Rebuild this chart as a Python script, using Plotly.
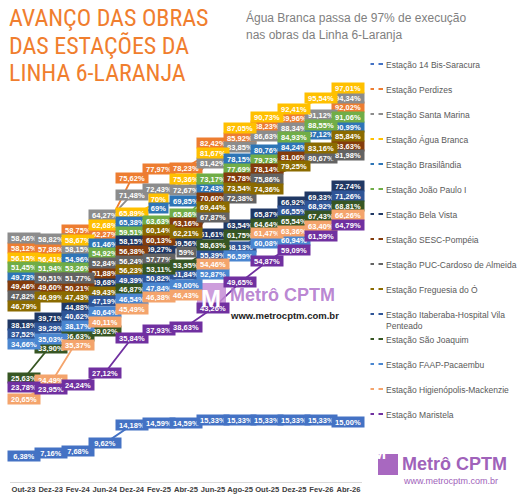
import textwrap
import plotly.graph_objects as go

# ---------------- data ----------------
months = ["Out-23", "Dez-23", "Fev-24", "Jun-24", "Dez-24", "Fev-25", "Abr-25",
          "Jun-25", "Ago-25", "Out-25", "Dez-25", "Fev-26", "Abr-26"]

series_names = [
    "Estação 14 Bis-Saracura",
    "Estação Perdizes",
    "Estação Santa Marina",
    "Estação Água Branca",
    "Estação Brasilândia",
    "Estação João Paulo I",
    "Estação Bela Vista",
    "Estação SESC-Pompéia",
    "Estação PUC-Cardoso de Almeida",
    "Estação Freguesia do Ó",
    "Estação Itaberaba-Hospital Vila Penteado",
    "Estação São Joaquim",
    "Estação FAAP-Pacaembu",
    "Estação Higienópolis-Mackenzie",
    "Estação Maristela",
]

series_colors = ["#4472C4", "#ED7D31", "#8C8C8C", "#FFC000", "#2E75B6", "#70AD47",
                 "#203864", "#843C0C", "#636363", "#8B6B00", "#2F5597", "#375623",
                 "#4A86D0", "#F4A46C", "#7030A0"]

bis14 = [6.38, 7.16, 7.68, 9.62, 14.18, 14.59, 14.59, 15.33, 15.33, 15.33, 15.33, 15.33, 15.00]
perdizes = [58.12, 57.89, 58.75, 62.27, 75.62, 77.97, 78.23, 82.42, 85.92, 88.23, 89.96, None, 92.02]
santa_marina = [58.46, 58.82, 58.15, 64.27, 71.48, 72.43, 72.67, 81.42, 83.85, 86.63, 88.34, 91.12, 94.34]
agua_branca = [56.15, 56.41, 58.67, 62.68, 65.89, 70, 75.36, 81.67, 87.05, 90.73, 92.41, 95.54, 97.01]
brasilandia = [49.73, None, 54.96, 61.46, 65.38, 69, 69.85, 72.43, 78.15, 80.76, 84.24, 87.12, 90.99]
joao_paulo = [51.45, 51.94, 53.26, 54.92, 59.51, 63.63, 65.86, 73.17, 77.69, 79.73, 84.93, 88.55, 91.06]
bela_vista = [38.18, 39.71, 44.88, 49.68, 58.15, 59.27, 59.56, 61.61, 63.54, 65.87, 66.92, 69.33, 72.74]
sesc_pompeia = [49.46, 49.60, 50.21, 51.88, 56.38, 60.13, 63.16, 70.60, 75.78, 78.14, 81.06, None, 83.63]
puc_cardoso = [47.82, 50.51, 51.77, 52.84, 56.24, 57.77, 59, 67.87, 72.38, 75.86, None, 80.67, 81.98]
freguesia = [46.79, 46.99, 47.43, 49.43, 56.23, 60.14, 62.21, 69.44, 73.54, 74.36, 79.25, 83.16, 85.84]
itaberaba = [37.52, 39.29, 40.62, 47.19, 49.39, 50.82, 51.84, 55.39, 58.13, None, 66.55, 68.92, 71.26]
sao_joaquim = [25.63, 33.90, 36.63, 39.02, 46.87, 53.11, 53.95, 58.63, 61.75, 64.64, 65.54, 67.43, 68.81]
faap = [34.66, 35.03, 38.17, 40.64, 46.54, 47.84, 49.00, 52.87, 56.59, 60.08, 60.94, None, None]
higienopolis = [20.65, 24.49, 35.37, 40.11, 45.49, 46.38, 46.43, 54.46, None, 61.47, 63.36, 63.40, 66.26]
maristela = [23.78, 23.95, 24.24, 27.12, 35.84, 37.93, 38.63, 43.26, 49.65, 54.87, 59.09, 61.59, 64.79]

series_values = [bis14, perdizes, santa_marina, agua_branca, brasilandia, joao_paulo,
                 bela_vista, sesc_pompeia, puc_cardoso, freguesia, itaberaba,
                 sao_joaquim, faap, higienopolis, maristela]

title_lines = ["AVANÇO DAS OBRAS", "DAS ESTAÇÕES DA", "LINHA 6-LARANJA"]
subtitle_lines = ["Água Branca passa de 97% de execução", "nas obras da Linha 6-Laranja"]

# ---------------- layout geometry ----------------
W, H = 522, 500
ML, MR, MT, MB = 10, 160, 80, 18
PW, PH = W - ML - MR, H - MT - MB
YMAX = 100
PPU = PH / YMAX
GAP = 9.6


def px_x(px):
    return (px - ML) / PW


def px_y(py):
    return (H - MB - py) / PH


def fmt(v):
    if isinstance(v, int):
        return f"{v}%"
    return f"{v:.2f}".replace(".", ",") + "%"


fig = go.Figure()
for name, vals, col in zip(series_names, series_values, series_colors):
    fig.add_trace(go.Scatter(x=months, y=vals, mode="lines", name=name,
                             line=dict(color=col, width=1.8), connectgaps=True,
                             showlegend=False, hoverinfo="skip"))

# label spreading to avoid overlap (pixel shifts)
shifts = {}
for mi in range(len(months)):
    items = [(vals[mi] * PPU, si) for si, vals in enumerate(series_values) if vals[mi] is not None]
    items.sort(key=lambda t: -t[0])
    pos = [p for p, _ in items]
    for _ in range(400):
        moved = False
        for k in range(len(pos) - 1):
            gap = pos[k] - pos[k + 1]
            if gap < GAP - 1e-6:
                d = (GAP - gap) / 2
                pos[k] += d
                pos[k + 1] -= d
                moved = True
        if not moved:
            break
    for (p0, si), p in zip(items, pos):
        shifts[(si, mi)] = p - p0

annotations = []
for si, (vals, col) in enumerate(zip(series_values, series_colors)):
    for mi, v in enumerate(vals):
        if v is None:
            continue
        t = fmt(v)
        annotations.append(dict(
            x=months[mi], y=v, xref="x", yref="y", text=t, showarrow=False,
            bgcolor=col, borderpad=1, width=30 if len(t) > 4 else 17, height=8,
            yshift=shifts[(si, mi)],
            font=dict(family="Liberation Sans, Arial, sans-serif", size=7.5,
                      color="white", weight="bold")))

# title
for i, line in enumerate(title_lines):
    annotations.append(dict(
        x=px_x(7), y=px_y(18 + 27.5 * i), xref="paper", yref="paper", text=line,
        showarrow=False, xanchor="left", yanchor="middle",
        font=dict(family="Liberation Sans Narrow, Roboto Condensed, Arial Narrow, sans-serif",
                  size=24, color="#F07E2E")))
for i, line in enumerate(subtitle_lines):
    annotations.append(dict(
        x=px_x(244), y=px_y(17 + 18 * i), xref="paper", yref="paper", text=line,
        showarrow=False, xanchor="left", yanchor="middle",
        font=dict(family="Liberation Sans, Arial, sans-serif", size=12, color="#7F7F7F")))

# legend (text + dash markers)
shapes = []
for i, (name, col) in enumerate(zip(series_names, series_colors)):
    cy = 64 + 25 * i
    wrapped = "<br>".join(textwrap.wrap(name, 31))
    annotations.append(dict(
        x=px_x(384), y=px_y(cy - 6), xref="paper", yref="paper", text=wrapped,
        showarrow=False, xanchor="left", yanchor="top", align="left",
        font=dict(family="Liberation Sans, Arial, sans-serif", size=8.5, color="#595959")))
    for x0, x1 in ((370.5, 374), (378.5, 383)):
        shapes.append(dict(type="rect", xref="paper", yref="paper",
                           x0=px_x(x0), x1=px_x(x1), y0=px_y(cy + 1), y1=px_y(cy - 1),
                           fillcolor=col, line=dict(width=0)))

# watermark (middle)
shapes.append(dict(type="rect", xref="paper", yref="paper", x0=px_x(197), x1=px_x(226),
                   y0=px_y(313), y1=px_y(283), fillcolor="rgba(196,140,214,0.85)",
                   line=dict(width=0), layer="above"))
annotations.append(dict(x=px_x(211.5), y=px_y(298), xref="paper", yref="paper", text="M",
                        showarrow=False, font=dict(family="Liberation Sans, Arial", size=24,
                                                   color="white", weight="bold")))
annotations.append(dict(x=px_x(228), y=px_y(295), xref="paper", yref="paper", text="Metrô CPTM",
                        showarrow=False, xanchor="left", yanchor="middle",
                        font=dict(family="Liberation Sans, Arial", size=18,
                                  color="rgba(178,120,205,0.9)", weight="bold")))
annotations.append(dict(x=px_x(228), y=px_y(315), xref="paper", yref="paper",
                        text="www.metrocptm.com.br", showarrow=False, xanchor="left",
                        yanchor="middle", font=dict(family="Liberation Sans, Arial", size=9.5,
                                                    color="#222222", weight="bold")))

# watermark (bottom right)
shapes.append(dict(type="rect", xref="paper", yref="paper", x0=px_x(378), x1=px_x(398),
                   y0=px_y(475), y1=px_y(454), fillcolor="#A868C0", line=dict(width=0)))
annotations.append(dict(x=px_x(388), y=px_y(464.5), xref="paper", yref="paper", text="M",
                        showarrow=False, font=dict(family="Liberation Sans, Arial", size=17,
                                                   color="white", weight="bold")))
annotations.append(dict(x=px_x(400), y=px_y(464), xref="paper", yref="paper", text="Metrô CPTM",
                        showarrow=False, xanchor="left", yanchor="middle",
                        font=dict(family="Liberation Sans, Arial", size=18,
                                  color="#A062BA", weight="bold")))
annotations.append(dict(x=px_x(401), y=px_y(481), xref="paper", yref="paper",
                        text="www.metrocptm.com.br", showarrow=False, xanchor="left",
                        yanchor="middle", font=dict(family="Liberation Sans, Arial", size=9,
                                                    color="#A062BA")))

fig.update_layout(
    width=W, height=H, margin=dict(l=ML, r=MR, t=MT, b=MB),
    paper_bgcolor="white", plot_bgcolor="white",
    xaxis=dict(type="category", range=[-0.5, len(months) - 0.5], showline=True,
               linecolor="#D9D9D9", linewidth=1, showgrid=False, ticks="",
               tickangle=0, automargin=False, fixedrange=True,
               tickfont=dict(family="Liberation Sans Narrow, Liberation Sans, Arial", size=7.6,
                             color="#404040", weight="bold")),
    yaxis=dict(range=[0, YMAX], visible=False, fixedrange=True),
    annotations=annotations, shapes=shapes, showlegend=False,
)

fig.write_html("out.html")
